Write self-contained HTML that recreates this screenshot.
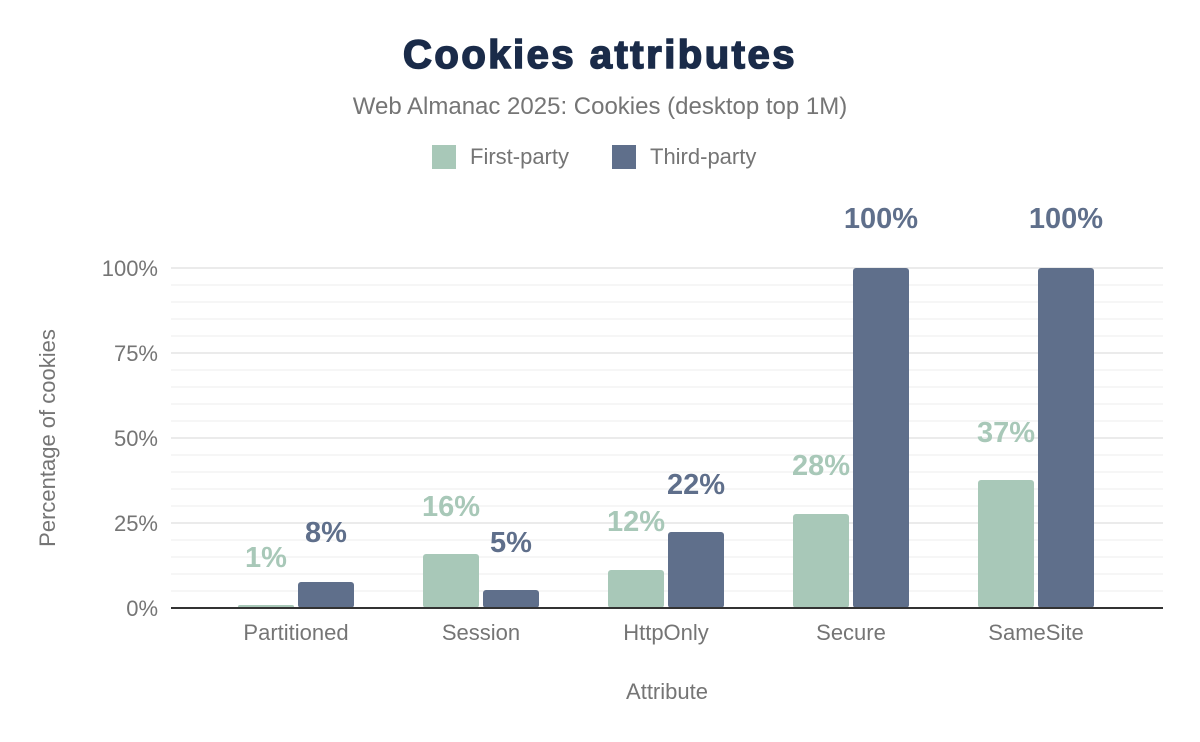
<!DOCTYPE html>
<html><head><meta charset="utf-8"><style>
body{margin:0;background:#fff;}
svg{display:block;font-family:"Liberation Sans",Arial,sans-serif;}
</style></head><body>
<svg width="1200" height="742" viewBox="0 0 1200 742" xmlns="http://www.w3.org/2000/svg">
<rect width="1200" height="742" fill="#fff"/>
<text x="600" y="68" text-anchor="middle" font-size="40" font-weight="900" letter-spacing="2.5" fill="#1a2b49" stroke="#1a2b49" stroke-width="1.6">Cookies attributes</text>
<text x="600" y="114" text-anchor="middle" font-size="24" fill="#757575">Web Almanac 2025: Cookies (desktop top 1M)</text>
<rect x="432" y="145" width="24" height="24" fill="#a8c8b8"/>
<text x="470" y="164" font-size="22" fill="#757575">First-party</text>
<rect x="612" y="145" width="24" height="24" fill="#5f6f8b"/>
<text x="650" y="164" font-size="22" fill="#757575">Third-party</text>
<g stroke="#f3f3f3" stroke-width="1.5">
<line x1="171" x2="1163" y1="591" y2="591"/><line x1="171" x2="1163" y1="574" y2="574"/><line x1="171" x2="1163" y1="557" y2="557"/><line x1="171" x2="1163" y1="540" y2="540"/>
<line x1="171" x2="1163" y1="506" y2="506"/><line x1="171" x2="1163" y1="489" y2="489"/><line x1="171" x2="1163" y1="472" y2="472"/><line x1="171" x2="1163" y1="455" y2="455"/>
<line x1="171" x2="1163" y1="421" y2="421"/><line x1="171" x2="1163" y1="404" y2="404"/><line x1="171" x2="1163" y1="387" y2="387"/><line x1="171" x2="1163" y1="370" y2="370"/>
<line x1="171" x2="1163" y1="336" y2="336"/><line x1="171" x2="1163" y1="319" y2="319"/><line x1="171" x2="1163" y1="302" y2="302"/><line x1="171" x2="1163" y1="285" y2="285"/>
</g>
<g stroke="#ebebeb" stroke-width="2">
<line x1="171" x2="1163" y1="523" y2="523"/><line x1="171" x2="1163" y1="438" y2="438"/><line x1="171" x2="1163" y1="353" y2="353"/><line x1="171" x2="1163" y1="268" y2="268"/>
</g>
<g font-size="22" fill="#757575" text-anchor="end">
<text x="158" y="616">0%</text><text x="158" y="531">25%</text><text x="158" y="446">50%</text><text x="158" y="361">75%</text><text x="158" y="276">100%</text>
</g>
<text transform="translate(55,438) rotate(-90)" text-anchor="middle" font-size="22" fill="#757575">Percentage of cookies</text>
<g fill="#a8c8b8">
<rect x="238" y="605" width="56" height="3" rx="2"/>
<rect x="423" y="554" width="56" height="54" rx="3"/>
<rect x="608" y="570" width="56" height="38" rx="3"/>
<rect x="793" y="514" width="56" height="94" rx="3"/>
<rect x="978" y="480" width="56" height="128" rx="3"/>
</g>
<g fill="#5f6f8b">
<rect x="298" y="582" width="56" height="26" rx="3"/>
<rect x="483" y="590" width="56" height="18" rx="3"/>
<rect x="668" y="532" width="56" height="76" rx="3"/>
<rect x="853" y="268" width="56" height="340" rx="3"/>
<rect x="1038" y="268" width="56" height="340" rx="3"/>
</g>
<line x1="171" x2="1163" y1="608" y2="608" stroke="#333" stroke-width="2"/>
<g font-size="29" font-weight="bold" text-anchor="middle" fill="#a8c8b8">
<text x="266" y="567">1%</text><text x="451" y="516">16%</text><text x="636" y="531">12%</text><text x="821" y="475">28%</text><text x="1006" y="442">37%</text>
</g>
<g font-size="29" font-weight="bold" text-anchor="middle" fill="#5f6f8b">
<text x="326" y="542">8%</text><text x="511" y="552">5%</text><text x="696" y="494">22%</text><text x="881" y="228">100%</text><text x="1066" y="228">100%</text>
</g>
<g font-size="22" fill="#757575" text-anchor="middle">
<text x="296" y="640">Partitioned</text><text x="481" y="640">Session</text><text x="666" y="640">HttpOnly</text><text x="851" y="640">Secure</text><text x="1036" y="640">SameSite</text>
</g>
<text x="667" y="699" text-anchor="middle" font-size="22" fill="#757575">Attribute</text>
</svg>
</body></html>
